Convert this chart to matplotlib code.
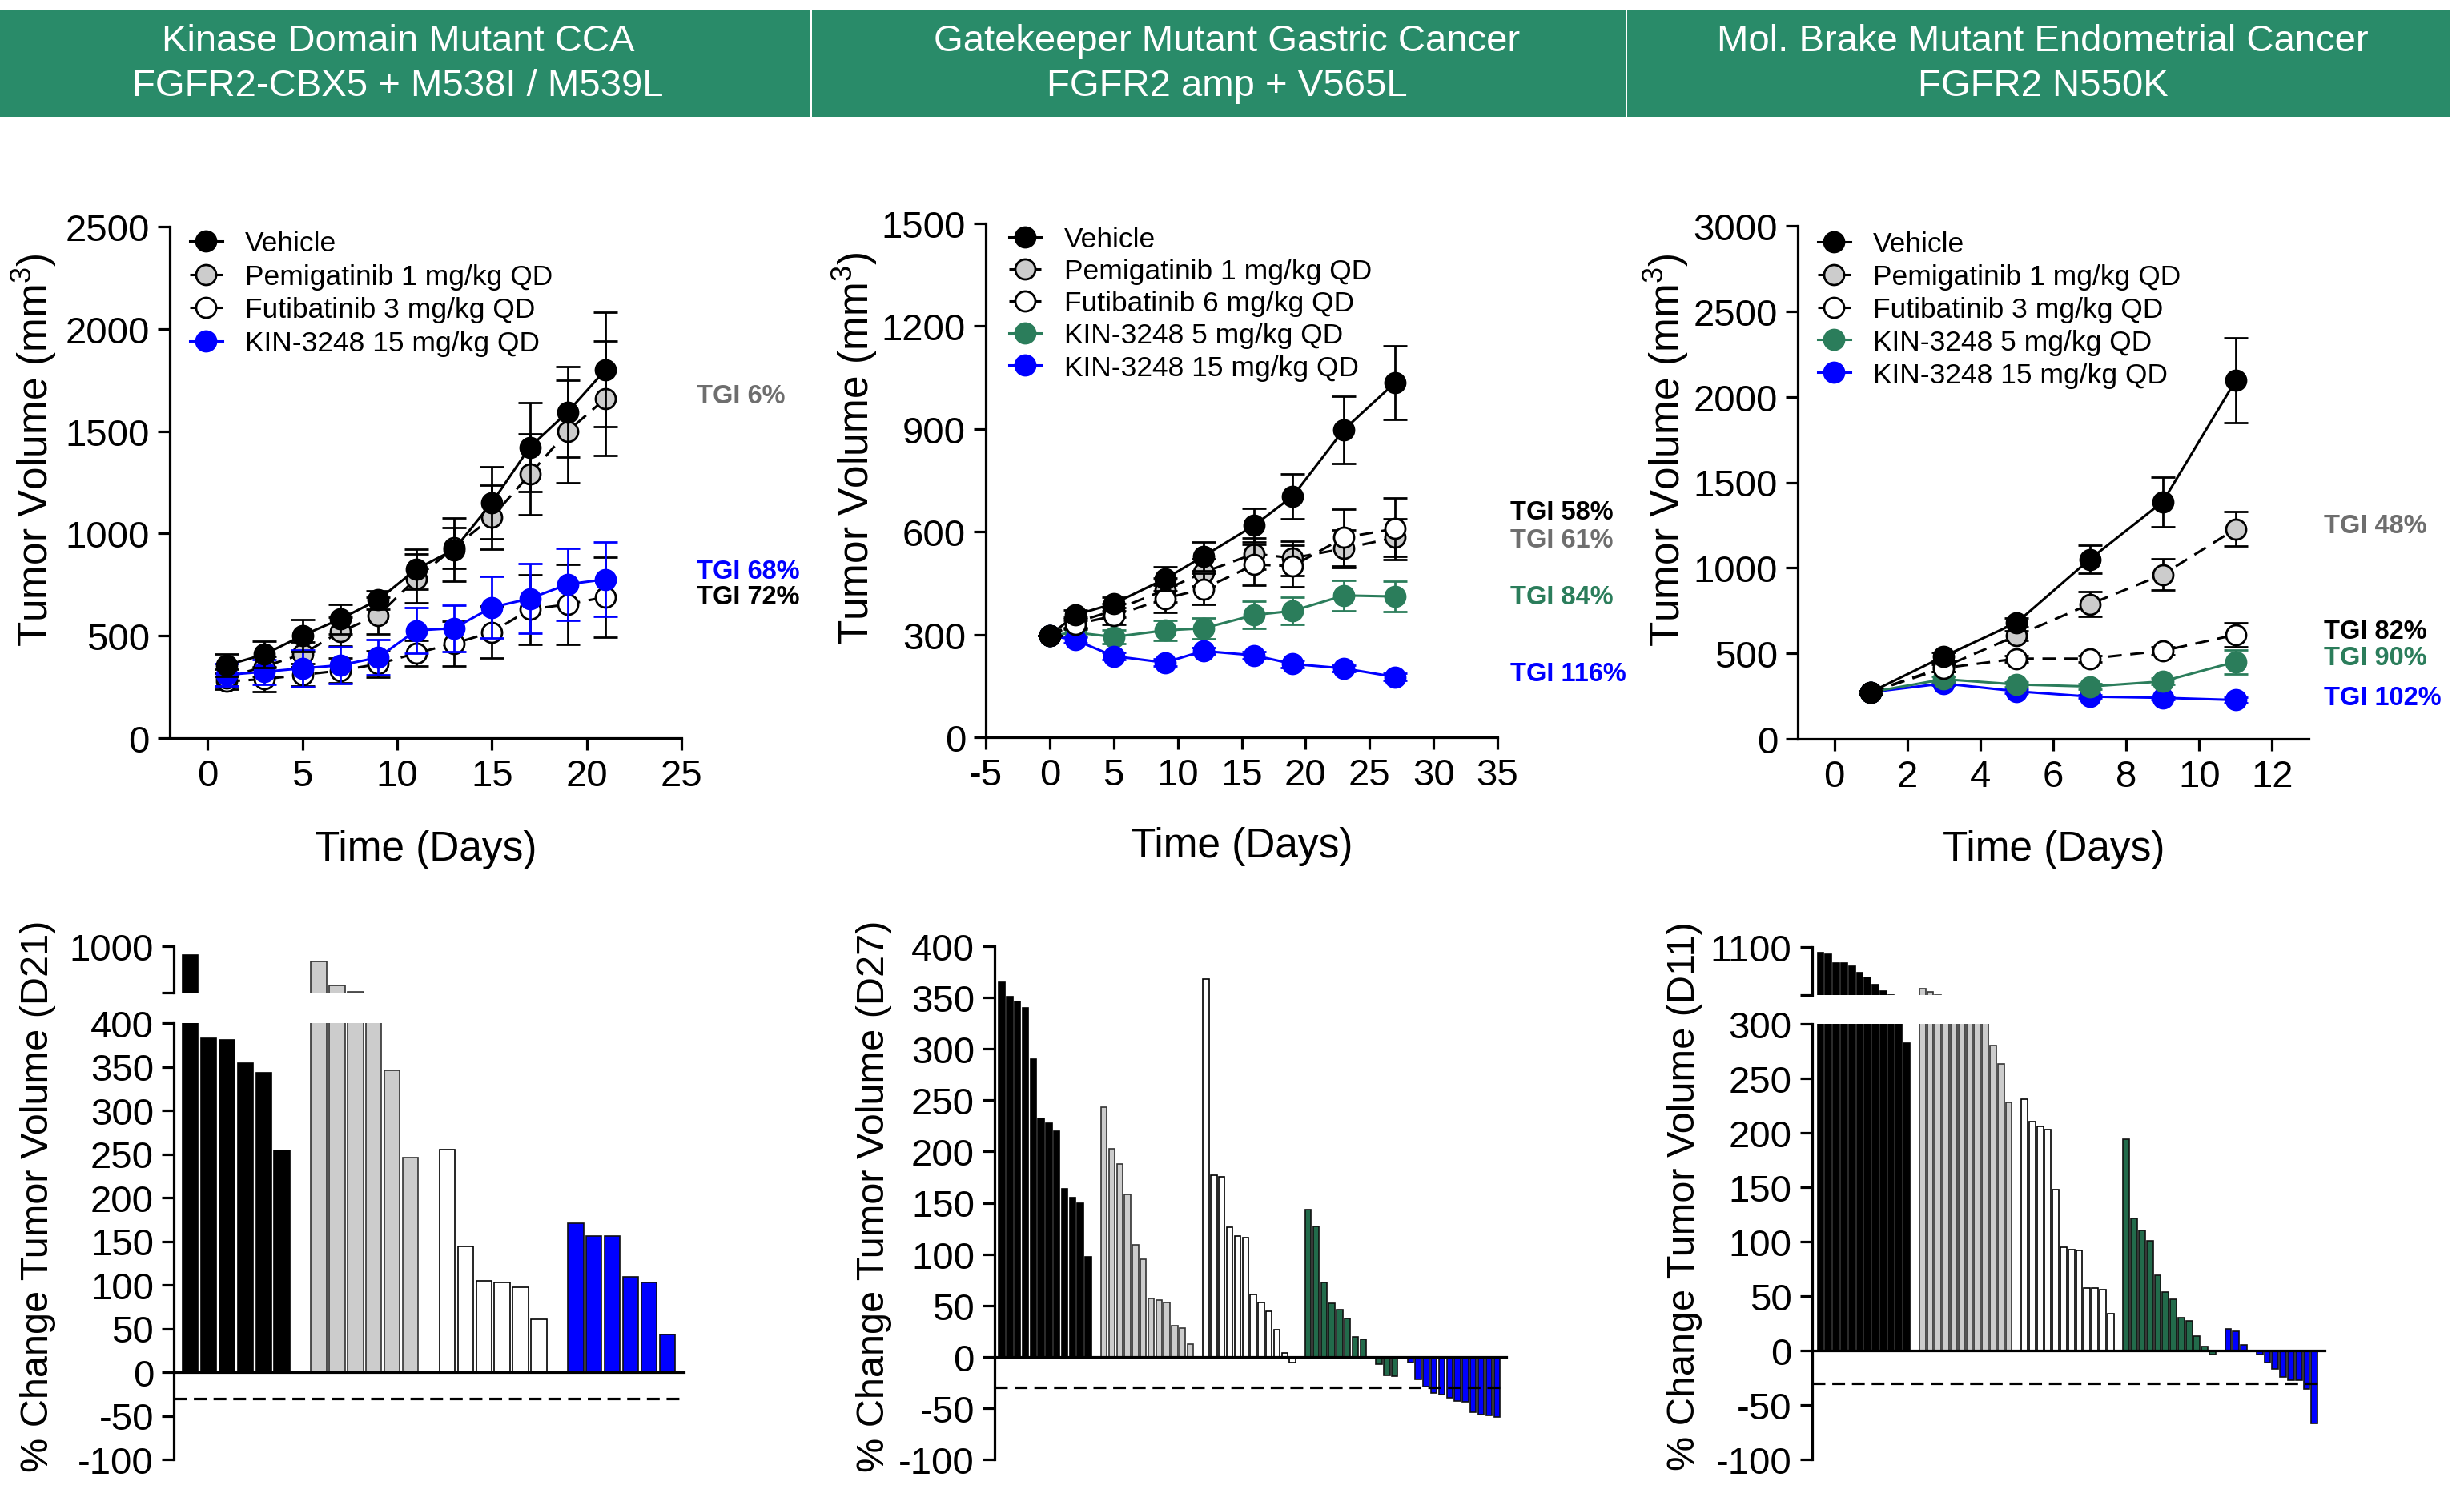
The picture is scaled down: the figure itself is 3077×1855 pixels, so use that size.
import matplotlib
matplotlib.use('Agg')
import matplotlib.pyplot as plt
from matplotlib.patches import Rectangle
from matplotlib.ticker import FixedLocator

plt.rcParams['font.family'] = ['Liberation Sans', 'DejaVu Sans']
plt.rcParams['mathtext.default'] = 'regular'
plt.rcParams['axes.unicode_minus'] = False

# ---------------- data ----------------
header_titles = ["Kinase Domain Mutant CCA", "Gatekeeper Mutant Gastric Cancer",
                 "Mol. Brake Mutant Endometrial Cancer"]
header_subtitles = ["FGFR2-CBX5 + M538I / M539L", "FGFR2 amp + V565L", "FGFR2 N550K"]

# Panel 1: CCA growth curves
cca_days = [1, 3, 5, 7, 9, 11, 13, 15, 17, 19, 21]
cca_vehicle = [356, 409, 501, 582, 676, 825, 921, 1151, 1422, 1594, 1801]
cca_vehicle_sem = [55, 64, 79, 72, 45, 98, 155, 177, 217, 220, 281]
cca_pemi = [295, 350, 410, 520, 600, 780, 930, 1080, 1290, 1500, 1660]
cca_pemi_sem = [40, 50, 60, 70, 90, 120, 100, 157, 197, 250, 280]
cca_futi = [277, 288, 309, 330, 362, 415, 462, 518, 629, 654, 690]
cca_futi_sem = [40, 60, 55, 60, 65, 63, 110, 128, 170, 196, 196]
cca_kin15 = [309, 324, 341, 356, 394, 526, 537, 639, 682, 752, 776]
cca_kin15_sem = [55, 60, 90, 90, 86, 113, 113, 150, 171, 175, 183]
cca_labels = ["Vehicle", "Pemigatinib 1 mg/kg QD", "Futibatinib 3 mg/kg QD", "KIN-3248 15 mg/kg QD"]
cca_tgi = ["TGI 6%", "TGI 68%", "TGI 72%"]

# Panel 2: gastric growth curves
gc_days = [0, 2, 5, 9, 12, 16, 19, 23, 27]
gc_vehicle = [297, 357, 390, 462, 528, 619, 704, 898, 1035]
gc_vehicle_sem = [0, 15, 20, 35, 42, 50, 65, 98, 108]
gc_pemi = [297, 335, 370, 430, 481, 536, 523, 551, 583]
gc_pemi_sem = [0, 15, 20, 35, 40, 45, 50, 55, 55]
gc_futi = [297, 330, 354, 405, 433, 504, 500, 583, 609]
gc_futi_sem = [0, 15, 25, 40, 45, 60, 60, 82, 90]
gc_kin5 = [297, 306, 293, 312, 318, 357, 369, 414, 411]
gc_kin5_sem = [0, 12, 20, 30, 30, 40, 40, 45, 45]
gc_kin15 = [297, 284, 237, 218, 252, 239, 214, 201, 176]
gc_kin15_sem = [0, 8, 10, 10, 10, 10, 10, 10, 10]
gc_labels = ["Vehicle", "Pemigatinib 1 mg/kg QD", "Futibatinib 6 mg/kg QD",
             "KIN-3248 5 mg/kg QD", "KIN-3248 15 mg/kg QD"]
gc_tgi = ["TGI 58%", "TGI 61%", "TGI 84%", "TGI 116%"]

# Panel 3: endometrial growth curves
ec_days = [1, 3, 5, 7, 9, 11]
ec_vehicle = [273, 482, 680, 1050, 1386, 2095]
ec_vehicle_sem = [10, 25, 25, 83, 144, 248]
ec_pemi = [273, 420, 604, 787, 961, 1228]
ec_pemi_sem = [10, 25, 30, 72, 90, 102]
ec_futi = [273, 414, 469, 469, 515, 609]
ec_futi_sem = [10, 20, 20, 20, 25, 70]
ec_kin5 = [273, 349, 318, 306, 336, 451]
ec_kin5_sem = [10, 15, 15, 15, 20, 70]
ec_kin15 = [273, 324, 278, 247, 240, 227]
ec_kin15_sem = [10, 10, 10, 10, 10, 15]
ec_labels = ["Vehicle", "Pemigatinib 1 mg/kg QD", "Futibatinib 3 mg/kg QD",
             "KIN-3248 5 mg/kg QD", "KIN-3248 15 mg/kg QD"]
ec_tgi = ["TGI 48%", "TGI 82%", "TGI 90%", "TGI 102%"]

# Waterfalls (% change tumor volume)
cca_wf_vehicle = [906, 383, 381, 354, 343, 254]
cca_wf_pemi = [835, 571, 505, 450, 346, 246]
cca_wf_futi = [255, 144, 105, 103, 97, 61]
cca_wf_kin15 = [171, 156, 156, 109, 103, 43]

gc_wf_vehicle = [365, 351, 346, 340, 290, 232, 228, 220, 164, 155, 150, 97]
gc_wf_pemi = [243, 203, 188, 158, 109, 95, 57, 55, 53, 30, 28, 12]
gc_wf_futi = [368, 177, 175, 126, 118, 116, 61, 53, 44, 26, 4, -6]
gc_wf_kin5 = [143, 127, 72, 52, 46, 37, 19, 17, 0, -7, -18, -19]
gc_wf_kin15 = [-6, -22, -29, -35, -37, -40, -43, -44, -54, -56, -57, -59]

ec_wf_vehicle = [1027, 1013, 899, 899, 857, 777, 725, 632, 552, 504, 420, 282]
ec_wf_pemi = [580, 545, 505, 470, 440, 410, 380, 350, 320, 280, 263, 228]
ec_wf_futi = [231, 210, 206, 203, 148, 95, 93, 92, 57, 57, 56, 34]
ec_wf_kin5 = [194, 121, 110, 101, 69, 54, 47, 30, 27, 13, 4, -4]
ec_wf_kin15 = [20, 18, 5, 0, -4, -11, -17, -24, -27, -27, -35, -67]

# ---------------- styles ----------------
GREEN_HDR = '#298b69'
GREEN_LINE = '#2b7d5b'
GREEN_BAR = '#226b4b'
BLUE = '#0000ff'
GRAY_TXT = '#6e6e6e'
DASH = (0, (5.5, 3.5))
STY = {
    'veh': dict(color='black', mfc='black', mec='black', ls='-'),
    'pemi': dict(color='black', mfc='#cccccc', mec='black', ls=DASH),
    'futi': dict(color='black', mfc='white', mec='black', ls=DASH),
    'k5': dict(color=GREEN_LINE, mfc=GREEN_LINE, mec=GREEN_LINE, ls='-'),
    'k15': dict(color=BLUE, mfc=BLUE, mec=BLUE, ls='-'),
}
BARSTY = {
    'veh': dict(color='black', edgecolor='black'),
    'pemi': dict(color='#cccccc', edgecolor='#333333'),
    'futi': dict(color='white', edgecolor='black'),
    'k5': dict(color=GREEN_BAR, edgecolor='#111111'),
    'k15': dict(color=BLUE, edgecolor='#111111'),
}

W, H = 3077, 1856
fig = plt.figure(figsize=(W / 100, H / 100), dpi=100)


def ax_px(left, top, right, bottom):
    return fig.add_axes([left / W, 1 - bottom / H, (right - left) / W, (bottom - top) / H])


def ftext(x, y, s, **kw):
    fig.text(x / W, 1 - y / H, s, **kw)


def style_axes(ax):
    for s in ['top', 'right']:
        ax.spines[s].set_visible(False)
    for s in ['left', 'bottom']:
        ax.spines[s].set_linewidth(2.3)
    ax.tick_params(axis='both', which='major', direction='out', length=11, width=2.3,
                   labelsize=34, pad=7)


# ---------------- headers ----------------
boxes = [(0, 1012), (1014, 2030), (2032, 3060)]
centers = [497, 1532, 2551]
for (x0, x1), cx, t1, t2 in zip(boxes, centers, header_titles, header_subtitles):
    fig.patches.append(Rectangle((x0 / W, 1 - 147 / H), (x1 - x0) / W, (147 - 13) / H,
                                 transform=fig.transFigure, facecolor=GREEN_HDR,
                                 edgecolor='none'))
    ftext(cx, 52, t1, color='white', fontsize=34, ha='center', va='center')
    ftext(cx, 108, t2, color='white', fontsize=34, ha='center', va='center')


# ---------------- growth curves ----------------
def line_panel(ax, days, series, labels, xlim, xticks, ylim, yticks, leg_anchor, leg_space):
    handles = []
    for (vals, sem, key, z), lab in zip(series, labels):
        st = STY[key]
        ax.errorbar(days, vals, yerr=sem, fmt='none', ecolor=st['color'], elinewidth=2,
                    capsize=11, capthick=2, zorder=z)
        ln, = ax.plot(days, vals, color=st['color'], ls=st['ls'], lw=2.2, marker='o', ms=18,
                      mfc=st['mfc'], mec=st['mec'], mew=2, zorder=z + 0.5, label=lab)
        handles.append(ln)
    style_axes(ax)
    ax.set_xlim(*xlim)
    ax.set_ylim(*ylim)
    ax.set_xticks(xticks)
    ax.set_yticks(yticks)
    ax.legend(handles, labels, loc='upper left', bbox_to_anchor=leg_anchor, frameon=False,
              fontsize=25.5, handlelength=1.15, handletextpad=0.8, labelspacing=leg_space,
              borderpad=0, borderaxespad=0, markerscale=1.0)


def tgi(ax, x, ys, texts, colors):
    for y, t, c in zip(ys, texts, colors):
        ax.text(x, y, t, transform=ax.get_yaxis_transform(), fontsize=23.5, fontweight='bold',
                color=c, ha='left', va='center', clip_on=False)


ax1 = ax_px(212, 284, 851, 923)
line_panel(ax1, cca_days,
           [(cca_vehicle, cca_vehicle_sem, 'veh', 8), (cca_pemi, cca_pemi_sem, 'pemi', 4),
            (cca_futi, cca_futi_sem, 'futi', 2), (cca_kin15, cca_kin15_sem, 'k15', 6)],
           cca_labels, (-2, 25), range(0, 26, 5), (0, 2500), range(0, 2501, 500),
           (0.039, 0.993), 0.24)
tgi(ax1, 1.03, [1672, 815, 690], cca_tgi, [GRAY_TXT, BLUE, 'black'])

ax2 = ax_px(1231, 280, 1870, 922)
line_panel(ax2, gc_days,
           [(gc_vehicle, gc_vehicle_sem, 'veh', 10), (gc_pemi, gc_pemi_sem, 'pemi', 4),
            (gc_futi, gc_futi_sem, 'futi', 6), (gc_kin5, gc_kin5_sem, 'k5', 2),
            (gc_kin15, gc_kin15_sem, 'k15', 3)],
           gc_labels, (-5, 35), range(-5, 36, 5), (0, 1500), range(0, 1501, 300),
           (0.045, 0.995), 0.2)
tgi(ax2, 1.025, [657, 575, 411, 185], gc_tgi, ['black', GRAY_TXT, GREEN_LINE, BLUE])

ax3 = ax_px(2245, 283, 2883, 924)
line_panel(ax3, ec_days,
           [(ec_vehicle, ec_vehicle_sem, 'veh', 10), (ec_pemi, ec_pemi_sem, 'pemi', 4),
            (ec_futi, ec_futi_sem, 'futi', 6), (ec_kin5, ec_kin5_sem, 'k5', 3),
            (ec_kin15, ec_kin15_sem, 'k15', 2)],
           ec_labels, (-1, 13), range(0, 13, 2), (0, 3000), range(0, 3001, 500),
           (0.039, 0.99), 0.22)
tgi(ax3, 1.03, [1245, 630, 477, 239], ec_tgi, [GRAY_TXT, 'black', GREEN_LINE, BLUE])

for cx, cy in [(43, 562), (1068, 560), (2081, 562)]:
    ftext(cx, cy, 'Tumor Volume (mm$^3$)', fontsize=37, rotation=90, ha='center', va='center')
for cx, cy in [(532, 1062), (1551, 1057), (2565, 1062)]:
    ftext(cx, cy, 'Time (Days)', fontsize=37, ha='center', va='center')


# ---------------- waterfalls ----------------
def waterfall(axes, groups, n, width, xlim):
    for gi, (vals, key) in enumerate(groups):
        xs = [gi * (n + 1) + i for i in range(len(vals))]
        for ax in axes:
            ax.bar(xs, vals, width=width, linewidth=1.2, **BARSTY[key])
    for ax in axes:
        ax.set_xlim(*xlim)
        style_axes(ax)
        ax.set_xticks([])
        ax.spines['right'].set_visible(False)


def lower_style(ax, ylim, yticks, brk=None):
    ax.set_ylim(*ylim)
    ax.set_yticks(yticks)
    ax.spines['bottom'].set_position(('data', 0))
    ax.axhline(-30, color='black', ls=(0, (5, 2.7)), lw=2.3, zorder=5)
    if brk is not None:
        ax.yaxis.set_minor_locator(FixedLocator([brk]))
        ax.tick_params(axis='y', which='minor', direction='in', length=9, width=2.3)


def upper_style(ax, ylim, top_label):
    ax.set_ylim(*ylim)
    ax.set_yticks(ylim)
    ax.set_yticklabels(['', top_label])
    ax.spines['bottom'].set_visible(False)
    ax.yaxis.set_minor_locator(FixedLocator([ylim[0]]))
    ax.tick_params(axis='y', which='minor', direction='in', length=9, width=2.3)


b1_hi = ax_px(217, 1183, 854, 1240.5)
b1_lo = ax_px(217, 1279, 854, 1824)
waterfall([b1_lo, b1_hi],
          [(cca_wf_vehicle, 'veh'), (cca_wf_pemi, 'pemi'), (cca_wf_futi, 'futi'),
           (cca_wf_kin15, 'k15')], 6, 0.85, (-0.9, 26.9))
lower_style(b1_lo, (-100, 400), range(-100, 401, 50), brk=400)
upper_style(b1_hi, (500, 1000), '1000')

b2 = ax_px(1242, 1183, 1881, 1824)
waterfall([b2],
          [(gc_wf_vehicle, 'veh'), (gc_wf_pemi, 'pemi'), (gc_wf_futi, 'futi'),
           (gc_wf_kin5, 'k5'), (gc_wf_kin15, 'k15')], 12, 0.75, (-0.92, 64.2))
lower_style(b2, (-100, 400), range(-100, 401, 50))

b3_hi = ax_px(2262.5, 1184, 2903, 1244)
b3_lo = ax_px(2262.5, 1280, 2903, 1824)
waterfall([b3_lo, b3_hi],
          [(ec_wf_vehicle, 'veh'), (ec_wf_pemi, 'pemi'), (ec_wf_futi, 'futi'),
           (ec_wf_kin5, 'k5'), (ec_wf_kin15, 'k15')], 12, 0.8, (-1.12, 64.3))
lower_style(b3_lo, (-100, 300), range(-100, 301, 50), brk=300)
upper_style(b3_hi, (500, 1100), '1100')

for cx, lab in [(48, '% Change Tumor Volume (D21)'), (1091, '% Change Tumor Volume (D27)'),
                (2104, '% Change Tumor Volume (D11)')]:
    ftext(cx, 1494, lab, fontsize=35, rotation=90, ha='center', va='center')

fig.savefig('out.png', dpi=100)
